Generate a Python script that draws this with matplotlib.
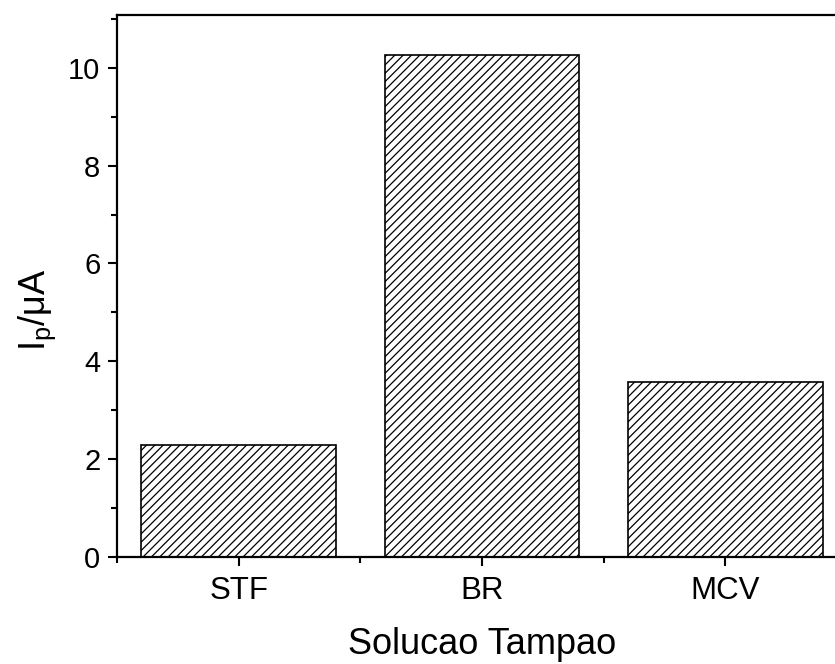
import matplotlib
matplotlib.use("Agg")
import matplotlib.pyplot as plt
from matplotlib.ticker import MultipleLocator, FixedLocator

plt.rcParams['font.family'] = ['Liberation Sans', 'DejaVu Sans']
plt.rcParams['mathtext.fontset'] = 'custom'
plt.rcParams['mathtext.rm'] = 'Liberation Sans'
plt.rcParams['mathtext.it'] = 'Liberation Sans'
plt.rcParams['hatch.linewidth'] = 0.9

categories = ["STF", "BR", "MCV"]
peak_current = [2.28, 10.27, 3.58]

fig = plt.figure(figsize=(8.35, 6.64), dpi=100)
ax = fig.add_axes([117/835, 1 - 557/664, 730/835, 542/664])

positions = [1, 2, 3]
ax.bar(positions, peak_current, width=0.8, color='white', edgecolor='black',
       linewidth=1.2, hatch='////')

ax.set_xlim(0.5, 3.5)
ax.set_ylim(0, 11.08)

ax.set_xticks(positions)
ax.set_xticklabels(categories)
ax.xaxis.set_minor_locator(FixedLocator([0.5, 1.5, 2.5, 3.5]))
ax.yaxis.set_major_locator(MultipleLocator(2))
ax.yaxis.set_minor_locator(MultipleLocator(1))

ax.tick_params(which='both', direction='out', width=1.5, top=False, right=False)
ax.tick_params(which='major', length=6.5)
ax.tick_params(which='minor', length=4)
ax.tick_params(axis='x', which='major', labelsize=22.5, pad=7)
ax.tick_params(axis='y', which='major', labelsize=21, pad=5.5)

for s in ax.spines.values():
    s.set_linewidth(1.6)

ax.set_xlabel("Solucao Tampao", fontsize=26, labelpad=15)
ax.set_ylabel(r"$\mathregular{I_p/μA}$", fontsize=26)
ax.yaxis.set_label_coords(-0.081, 0.456)

fig.savefig("out.png", dpi=100)
